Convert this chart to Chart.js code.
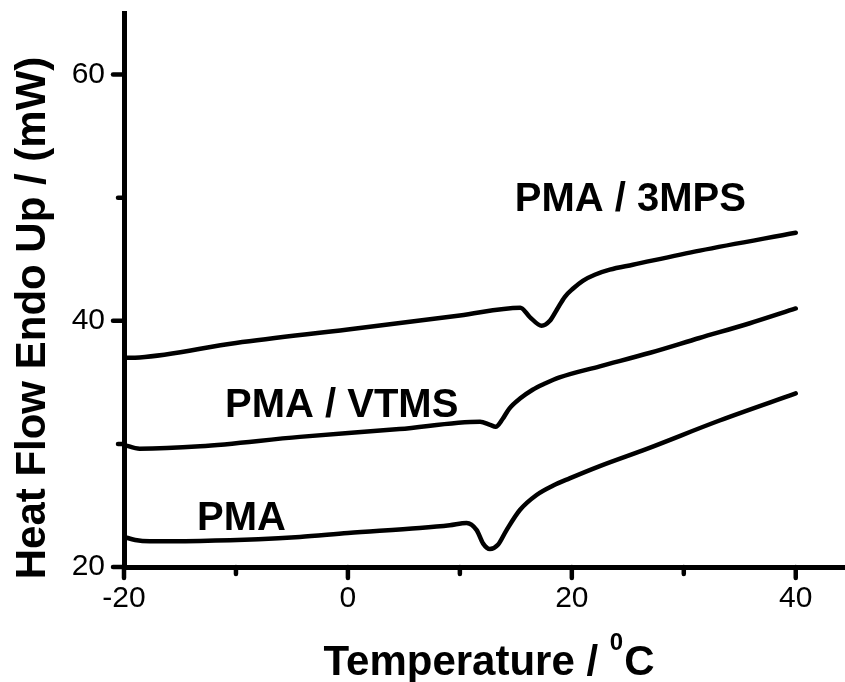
<!DOCTYPE html>
<html><head><meta charset="utf-8">
<script src="https://cdn.jsdelivr.net/npm/chart.js@4/dist/chart.umd.min.js"></script>
<style>html,body{margin:0;padding:0;background:#fff;}#wrap{width:845px;height:682px;position:relative;}</style>
</head><body><div id="wrap"><canvas id="c" width="845" height="682"></canvas></div>
<script>
// ---- data ----
const seriesNames = ['PMA', 'PMA / VTMS', 'PMA / 3MPS'];

const pmaTemp = [-20.0, -19.0, -17.7, -13.2, -8.0, -4.3, 0.0, 6.4, 9.1, 10.6, 11.5, 12.08, 12.68, 13.4, 14.17, 15.36, 16.85, 18.3, 19.8, 22.5, 26.7, 33.2, 40.0];
const pmaHeat = [22.44, 22.2, 22.1, 22.12, 22.25, 22.44, 22.76, 23.17, 23.4, 23.58, 23.0, 21.9, 21.46, 21.8, 23.0, 24.63, 25.85, 26.6, 27.2, 28.2, 29.6, 31.9, 34.1];

const vtmsTemp = [-20.0, -18.6, -13.2, -4.3, 4.6, 11.8, 12.7, 13.2, 13.8, 14.4, 15.4, 16.5, 17.6, 18.9, 22.5, 27.0, 31.4, 35.9, 40.0];
const vtmsHeat = [29.92, 29.6, 29.8, 30.57, 31.2, 31.8, 31.55, 31.4, 32.0, 32.85, 33.7, 34.4, 34.9, 35.4, 36.3, 37.4, 38.6, 39.8, 41.0];

const mpsTemp = [-20.0, -18.6, -10.0, 0.0, 10.0, 15.4, 16.25, 17.3, 18.04, 18.66, 19.38, 20.09, 20.98, 22.05, 23.39, 25.45, 31.43, 40.0];
const mpsHeat = [36.99, 37.02, 38.2, 39.3, 40.43, 41.06, 40.3, 39.6, 40.0, 40.9, 41.95, 42.6, 43.25, 43.74, 44.15, 44.55, 45.7, 47.15];

const xMajorTicks = [-20, 0, 20, 40];
const xMinorTicks = [-10, 10, 30];
const yMajorTicks = [20, 40, 60];
const yMinorTicks = [30, 50];

const xTitleMain = 'Temperature / ';
const xTitleSup = '0';
const xTitleEnd = 'C';
const yTitle = 'Heat Flow Endo Up / (mW)';

// ---- annotation anchors (data coordinates, left/baseline) ----
const labelAnchors = {
  'PMA': {x: -13.48, y: 23.0},
  'PMA / VTMS': {x: -10.98, y: 32.2},
  'PMA / 3MPS': {x: 14.9, y: 48.9}
};

const FONT = "'Liberation Sans', Arial, Helvetica, sans-serif";

function toPoints(xs, ys) { return xs.map((v, i) => ({x: v, y: ys[i]})); }
function mkDataset(name, xs, ys) {
  return {
    label: name, data: toPoints(xs, ys), showLine: true,
    borderColor: '#000', backgroundColor: '#000', borderWidth: 4.5,
    pointRadius: 0, pointHoverRadius: 0, fill: false,
    cubicInterpolationMode: 'monotone',
    borderCapStyle: 'round', borderJoinStyle: 'round'
  };
}

function noPad(s) { s.paddingTop = 0; s.paddingBottom = 0; s.paddingLeft = 0; s.paddingRight = 0; }

const decorPlugin = {
  id: 'decor',
  afterDraw(chart) {
    const ctx = chart.ctx;
    const xs = chart.scales.x, ys = chart.scales.y;
    const area = chart.chartArea;
    ctx.save();
    ctx.strokeStyle = '#000';
    ctx.lineWidth = 4.5;
    ctx.lineCap = 'round';
    const drawX = (vals, len) => vals.forEach(v => {
      const px = xs.getPixelForValue(v);
      ctx.beginPath(); ctx.moveTo(px, area.bottom); ctx.lineTo(px, area.bottom + len); ctx.stroke();
    });
    const drawY = (vals, len) => vals.forEach(v => {
      const py = ys.getPixelForValue(v);
      ctx.beginPath(); ctx.moveTo(area.left, py); ctx.lineTo(area.left - len, py); ctx.stroke();
    });
    drawX(xMajorTicks, 11); drawX(xMinorTicks, 7);
    drawY(yMajorTicks, 11); drawY(yMinorTicks, 6);

    // series labels
    ctx.fillStyle = '#000';
    ctx.font = 'bold 40px ' + FONT;
    ctx.textAlign = 'left';
    ctx.textBaseline = 'alphabetic';
    seriesNames.forEach(n => {
      const a = labelAnchors[n];
      ctx.fillText(n, xs.getPixelForValue(a.x), ys.getPixelForValue(a.y));
    });

    // x title with superscript
    const bigFont = 'bold 42px ' + FONT, supFont = 'bold 24px ' + FONT;
    ctx.font = bigFont; const w1 = ctx.measureText(xTitleMain).width; const w3 = ctx.measureText(xTitleEnd).width;
    ctx.font = supFont; const w2 = ctx.measureText(xTitleSup).width;
    const total = w1 + w2 + w3;
    const cx = (area.left + area.right) / 2 + 4;
    let sx = cx - total / 2;
    const base = area.bottom + 108;
    ctx.font = bigFont; ctx.fillText(xTitleMain, sx, base);
    ctx.font = supFont; ctx.fillText(xTitleSup, sx + w1, base - 25);
    ctx.font = bigFont; ctx.fillText(xTitleEnd, sx + w1 + w2 + 1, base);

    // y title
    ctx.save();
    ctx.translate(area.left - 79, 318);
    ctx.rotate(-Math.PI / 2);
    ctx.textAlign = 'center';
    ctx.font = bigFont;
    ctx.fillText(yTitle, 0, 0);
    ctx.restore();
    ctx.restore();
  }
};

new Chart(document.getElementById('c'), {
  type: 'scatter',
  data: {
    datasets: [
      mkDataset(seriesNames[0], pmaTemp, pmaHeat),
      mkDataset(seriesNames[1], vtmsTemp, vtmsHeat),
      mkDataset(seriesNames[2], mpsTemp, mpsHeat)
    ]
  },
  options: {
    responsive: false, animation: false, devicePixelRatio: 1,
    layout: {padding: {top: 13, left: 0, right: 0, bottom: 0}},
    plugins: {legend: {display: false}, tooltip: {enabled: false}, title: {display: false}},
    scales: {
      x: {
        type: 'linear', min: -20, max: 44.4,
        afterBuildTicks: s => { s.ticks = xMajorTicks.map(v => ({value: v})); },
        afterFit: s => { s.height = 115; noPad(s); },
        ticks: {color: '#000', font: {family: FONT, size: 30}, padding: 14, maxRotation: 0, autoSkip: false},
        grid: {drawOnChartArea: false, drawTicks: false},
        border: {display: true, color: '#000', width: 5}
      },
      y: {
        type: 'linear', min: 20, max: 65,
        afterBuildTicks: s => { s.ticks = yMajorTicks.map(v => ({value: v})); },
        afterFit: s => { s.width = 124; noPad(s); },
        ticks: {color: '#000', font: {family: FONT, size: 30}, padding: 19, autoSkip: false},
        grid: {drawOnChartArea: false, drawTicks: false},
        border: {display: true, color: '#000', width: 5}
      }
    }
  },
  plugins: [decorPlugin]
});
</script>
</body></html>
